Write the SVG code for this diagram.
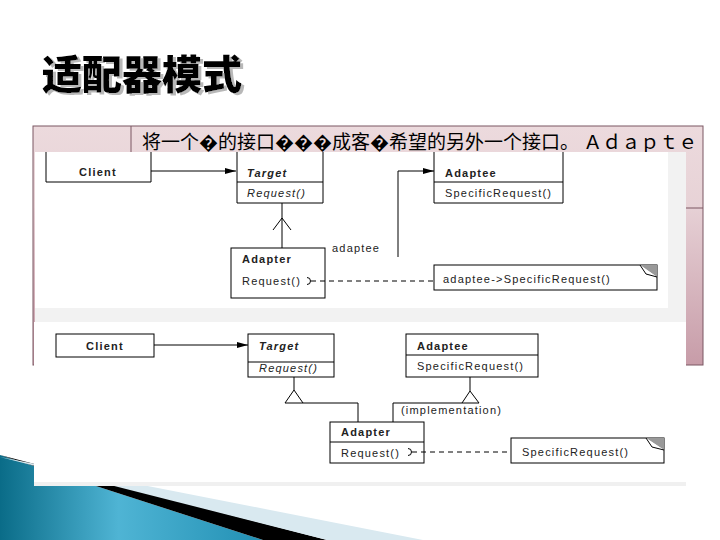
<svg xmlns="http://www.w3.org/2000/svg" width="720" height="540" viewBox="0 0 720 540">
<defs>
<linearGradient id="tblTop" x1="0" y1="0" x2="0" y2="1"><stop offset="0" stop-color="#ecdadd"/><stop offset="1" stop-color="#e7d2d6"/></linearGradient>
<linearGradient id="tblBot" x1="0" y1="0" x2="0" y2="1"><stop offset="0" stop-color="#e6d0d5"/><stop offset="1" stop-color="#c79ca8"/></linearGradient>
<linearGradient id="blue" x1="0" y1="0" x2="1" y2="0"><stop offset="0" stop-color="#0a6c88"/><stop offset="0.45" stop-color="#4fb4d4"/><stop offset="1" stop-color="#2290b4"/></linearGradient>
<filter id="sh" x="-5%" y="-10%" width="115%" height="130%"><feDropShadow dx="3" dy="2" stdDeviation="0.6" flood-color="#b8b8b8" flood-opacity="1"/></filter>
<marker id="fill" viewBox="0 0 11 6" refX="11" refY="3" markerWidth="11" markerHeight="6" markerUnits="userSpaceOnUse" orient="auto"><path d="M0,0 L11,3 L0,6 Z" fill="#000"/></marker>
<style>
.box{fill:#fff;stroke:#000;stroke-width:1}
.ln{fill:none;stroke:#000;stroke-width:1}
.dash{fill:none;stroke:#000;stroke-width:1;stroke-dasharray:5,4}
.t{font-family:"Liberation Sans",Arial,sans-serif;font-size:11px;letter-spacing:1.2px;fill:#222}
.b{font-weight:bold}
.i{font-style:italic}
.cjk{font-family:"Noto Sans CJK SC",sans-serif}
</style>
</defs>
<rect width="720" height="540" fill="#fff"/>
<g id="title">
<text x="42" y="89" class="cjk" font-size="40" font-weight="900" fill="#000" filter="url(#sh)">适配器模式</text>
</g>
<g id="table">
<rect x="33" y="126" width="670" height="82" fill="url(#tblTop)"/>
<rect x="33" y="208" width="670" height="157" fill="url(#tblBot)"/>
<rect x="33" y="126" width="670" height="239" fill="none" stroke="#7b5762" stroke-width="1"/>
<line x1="131" y1="126" x2="131" y2="365" stroke="#7b5762"/>
<line x1="131" y1="208" x2="703" y2="208" stroke="#7b5762"/>
<text x="142" y="149" class="cjk" font-size="19" fill="#000">将一个�的接口���成客�希望的另外一个接口。 Ａｄａｐｔｅ</text>
</g>
<g id="decor">
<polygon points="0,455 263,540 0,540" fill="url(#blue)"/>
<polygon points="0,455 327,540 263,540" fill="#000"/>
<polygon points="0,457 423,540 327,540" fill="#d9e9f0"/>
</g>
<g id="image1">
<rect x="35" y="152" width="651" height="170" fill="#f2f2f2"/>
<rect x="35" y="152" width="633" height="156" fill="#fff"/>
</g>
<g id="image2">
<rect x="34" y="482" width="652" height="4" fill="#f0f0f0"/>
<rect x="34" y="322" width="652" height="160" fill="#fff"/>
</g>
<g id="client1">
<path d="M46,152 L46,182 L151,182 L151,152" class="ln"/>
<text x="98" y="176" class="t b" text-anchor="middle">Client</text>
</g>
<g id="target1">
<path d="M237,152 L237,203 L323,203 L323,152 M237,182 L323,182" class="ln"/>
<text x="247" y="177" class="t b i">Target</text>
<text x="247" y="197" class="t i">Request()</text>
</g>
<g id="adapter1">
<rect x="231" y="248" width="94" height="50" class="box"/>
<text x="242" y="263" class="t b">Adapter</text>
<text x="242" y="285" class="t">Request()</text>
</g>
<g id="adaptee1">
<path d="M434,152 L434,203 L563,203 L563,152 M434,182 L563,182" class="ln"/>
<text x="445" y="177" class="t b">Adaptee</text>
<text x="445" y="197" class="t">SpecificRequest()</text>
</g>
<g id="label1">
<text x="332" y="252" class="t">adaptee</text>
</g>
<g id="note1">
<rect x="434" y="265" width="223" height="25" class="box"/>
<polygon points="640,265 657,265 657,277" fill="#999"/>
<path d="M640,265 L646,274 L657,277" fill="#fff" stroke="#000"/>
<text x="443" y="283" class="t" letter-spacing="1.5">adaptee-&gt;SpecificRequest()</text>
</g>
<g id="client2">
<rect x="56" y="334" width="98" height="23" class="box"/>
<text x="105" y="350" class="t b" text-anchor="middle">Client</text>
</g>
<g id="target2">
<rect x="248" y="334" width="86" height="43" class="box"/>
<line x1="248" y1="362" x2="334" y2="362" class="ln"/>
<text x="259" y="350" class="t b i">Target</text>
<text x="259" y="372" class="t i">Request()</text>
</g>
<g id="adaptee2">
<rect x="406" y="334" width="132" height="43" class="box"/>
<line x1="406" y1="355" x2="538" y2="355" class="ln"/>
<text x="417" y="350" class="t b">Adaptee</text>
<text x="417" y="370" class="t">SpecificRequest()</text>
</g>
<g id="label2">
<text x="401" y="414" class="t">(implementation)</text>
</g>
<g id="adapter2">
<rect x="330" y="422" width="94" height="41" class="box"/>
<line x1="330" y1="442" x2="424" y2="442" class="ln"/>
<text x="341" y="436" class="t b">Adapter</text>
<text x="341" y="457" class="t">Request()</text>
</g>
<g id="note2">
<rect x="511" y="438" width="153" height="25" class="box"/>
<polygon points="646,438 664,438 664,450" fill="#999"/>
<path d="M646,438 L652,447 L664,450" fill="#fff" stroke="#000"/>
<text x="522" y="456" class="t">SpecificRequest()</text>
</g>
<g id="connectors">
<line x1="151" y1="171" x2="236" y2="171" class="ln" marker-end="url(#fill)"/>
<line x1="282" y1="203" x2="282" y2="248" class="ln"/>
<path d="M273,230 L282,218 L291,230" class="ln"/>
<path d="M398,257 L398,171 L434,171" class="ln" marker-end="url(#fill)"/>
<path d="M307,277.5 A3.5,3.5 0 1 1 307,284.5" class="ln" stroke-width="1.2"/>
<line x1="311" y1="281" x2="434" y2="281" class="dash"/>
<line x1="154" y1="345" x2="248" y2="345" class="ln" marker-end="url(#fill)"/>
<line x1="294" y1="377" x2="294" y2="390" class="ln"/>
<path d="M294,390 L303,403 L285,403 Z" class="box"/>
<path d="M303,403 L358,403 L358,422" class="ln"/>
<line x1="470" y1="377" x2="470" y2="391" class="ln"/>
<path d="M470,391 L479,403 L462,403 Z" class="box"/>
<path d="M462,403 L393,403 L393,422" class="ln"/>
<path d="M408,448.5 A3.5,3.5 0 1 1 408,455.5" class="ln" stroke-width="1.2"/>
<line x1="412" y1="452" x2="511" y2="452" class="dash"/>
</g>
</svg>
